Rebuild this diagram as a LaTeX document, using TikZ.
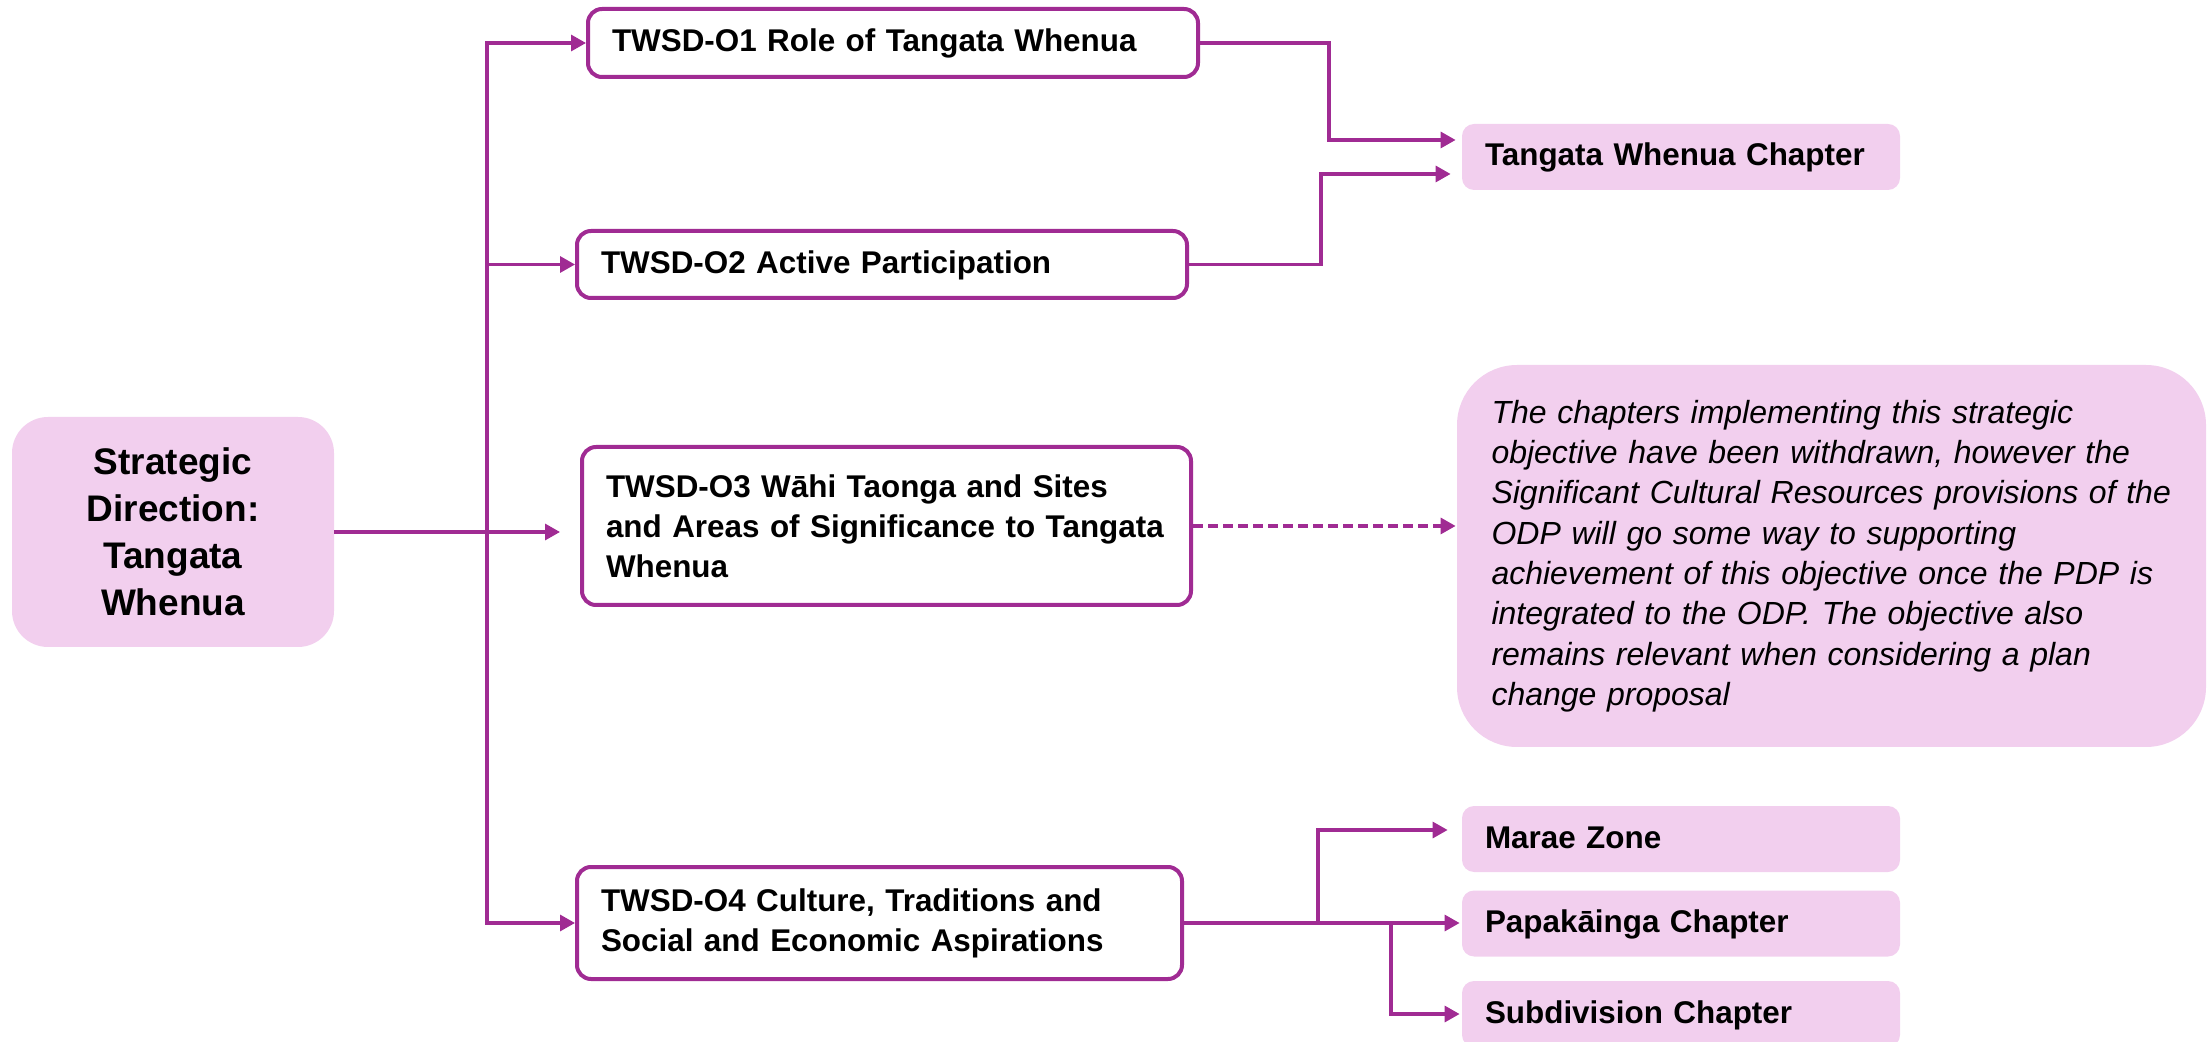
\documentclass[tikz,border=0pt]{standalone}
\usepackage{fontspec}
\setmainfont{Liberation Sans}
\usetikzlibrary{arrows.meta}
\definecolor{pur}{HTML}{A02B93}
\definecolor{pinkfill}{HTML}{F2CFEE}
\tikzset{
  obox/.style={draw=pur, line width=2pt, fill=white, rounded corners=7pt, inner xsep=12pt, inner ysep=0pt,
    align=left, font=\bfseries\fontsize{15.7}{20}\selectfont},
  oneline/.style={text height=0.95em, text depth=0.05em},
  cbox/.style={draw=none, fill=pinkfill, rounded corners=6pt, inner xsep=11.5pt, inner ysep=0pt, oneline,
    align=left, font=\bfseries\fontsize{15.7}{20}\selectfont, minimum width=219pt, minimum height=33pt, text width=196pt},
  arr/.style={draw=pur, line width=1.6pt, -{Triangle[length=7.5pt,width=8pt]}},
}
\begin{document}
\begin{tikzpicture}[x=0.5pt,y=-0.5pt]
\useasboundingbox (0,0) rectangle (2207,1042);
% strategic direction
\node[fill=pinkfill, rounded corners=18pt, minimum width=161pt, minimum height=115pt, align=center,
  font=\bfseries\fontsize{18.5}{23.5}\selectfont] (strat) at (173,532) {Strategic\\Direction:\\Tangata\\Whenua};
% objectives
\node[obox, oneline, minimum width=305pt, minimum height=34pt, text width=281pt] (o1) at (893,43) {TWSD-O1 Role of Tangata Whenua};
\node[obox, oneline, minimum width=305pt, minimum height=33.5pt, text width=281pt] (o2) at (882,264.5) {TWSD-O2 Active Participation};
\node[obox, minimum width=304.5pt, minimum height=79pt, text width=280.5pt] (o3) at (886.5,526) {TWSD-O3 Wāhi Taonga and Sites\\and Areas of Significance to Tangata\\Whenua};
\node[obox, minimum width=302.5pt, minimum height=56pt, text width=278.5pt] (o4) at (879.5,923) {TWSD-O4 Culture, Traditions and\\Social and Economic Aspirations};
% chapters
\node[cbox] (twc) at (1681,157) {Tangata Whenua Chapter};
\node[cbox] (marae) at (1681,839) {Marae Zone};
\node[cbox] (papa) at (1681,923.5) {Papakāinga Chapter};
\node[cbox] (subd) at (1681,1014) {Subdivision Chapter};
% note
\node[fill=pinkfill, rounded corners=30pt, minimum width=374.5pt, minimum height=191pt, inner xsep=17.25pt, inner ysep=0pt,
  text width=340pt, align=left, font=\itshape\fontsize{16}{20.15}\selectfont] (note) at (1831.5,556)
  {The chapters implementing this strategic\\objective have been withdrawn, however the\\Significant Cultural Resources provisions of the\\ODP will go some way to supporting\\achievement of this objective once the PDP is\\integrated to the ODP. The objective also\\remains relevant when considering a plan\\change proposal};
% trunk
\coordinate (tr) at (487,532);
\draw[arr] (strat.east) -- ([xshift=-10pt]o3.west |- strat.east);
\draw[arr] (tr) |- (o1.west);
\draw[arr] (tr) |- (o2.west);
\draw[arr] (tr) |- (o4.west);
% to chapters
\draw[arr] (o1.east) -- ++(129,0) |- ([xshift=-3pt,yshift=8.5pt]twc.west);
\draw[arr] (o2.east) -- ++(132,0) |- ([xshift=-5.5pt,yshift=-8.5pt]twc.west);
\draw[arr, dash pattern=on 5pt off 2.5pt] (o3.east) -- ([xshift=-0.5pt]note.west |- o3.east);
\draw[arr] (o4.east) -- ++(134,0) |- ([xshift=-7pt,yshift=4.5pt]marae.west);
\draw[arr] (o4.east) -- ([xshift=-1pt]papa.west |- o4.east);
\draw[arr] (o4.east) -- ++(207,0) |- ([xshift=-1pt]subd.west);
\end{tikzpicture}
\end{document}
